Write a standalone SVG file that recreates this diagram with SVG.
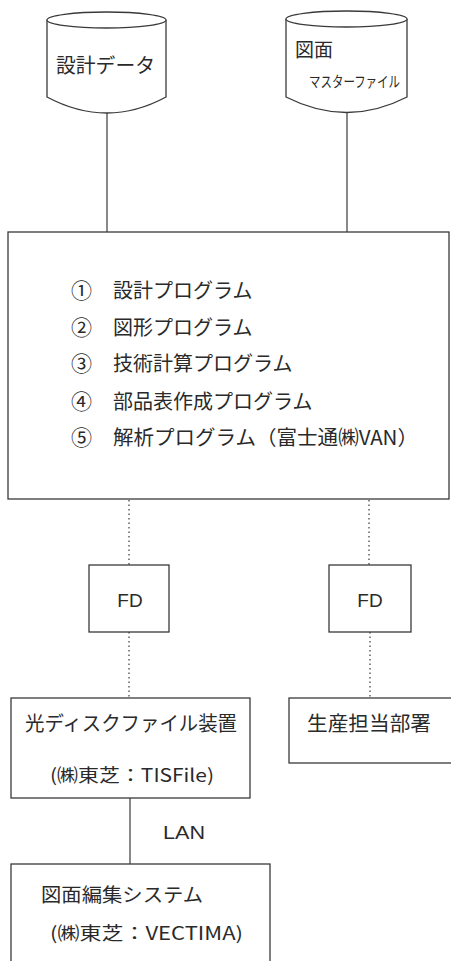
<svg xmlns="http://www.w3.org/2000/svg" width="451" height="961" viewBox="0 0 451 961">
<style>
.s{fill:#fff;stroke:#3a3a3a;stroke-width:1.3}
.t{font-family:"Noto Sans CJK JP","Noto Sans",sans-serif;fill:#2a2a2a}
.a{font-family:"Liberation Sans",Arial,sans-serif;fill:#2a2a2a}
.l{stroke:#3a3a3a;stroke-width:1.2;fill:none}
.d{stroke:#555;stroke-width:1.4;stroke-dasharray:1.5 3;fill:none}
</style>
<rect width="451" height="961" fill="#fff"/>
<g id="connectors">
<line class="l" x1="107" y1="113" x2="107" y2="232"/>
<line class="l" x1="347" y1="112" x2="347" y2="232"/>
<line class="d" x1="129" y1="500" x2="129" y2="565"/>
<line class="d" x1="369" y1="500" x2="369" y2="565"/>
<line class="d" x1="129" y1="632" x2="129" y2="698"/>
<line class="d" x1="370" y1="632" x2="370" y2="698"/>
<line class="l" x1="130" y1="798" x2="130" y2="864"/>
<text class="a" x="163" y="839" font-size="18" textLength="42" lengthAdjust="spacingAndGlyphs">LAN</text>
</g>
<g id="design-data">
<path class="s" d="M47,20 L47,97 Q107,129 166,97 L166,20"/>
<ellipse class="s" cx="106.5" cy="20" rx="59.5" ry="8"/>
<text class="t" x="56" y="73" font-size="20" textLength="99" lengthAdjust="spacingAndGlyphs">設計データ</text>
</g>
<g id="master-file">
<path class="s" d="M286,19 L286,97 Q347,128 407,97 L407,19"/>
<ellipse class="s" cx="346.5" cy="19" rx="60.5" ry="8"/>
<text class="t" x="295" y="57" font-size="19">図面</text>
<text class="t" x="309" y="87" font-size="15" textLength="91" lengthAdjust="spacingAndGlyphs">マスターファイル</text>
</g>
<g id="programs">
<rect class="s" x="8" y="232" width="441" height="267"/>
<g class="t" font-size="20">
<text x="71" y="298" font-size="21">①</text><text x="113" y="298">設計プログラム</text>
<text x="71" y="335" font-size="21">②</text><text x="113" y="335">図形プログラム</text>
<text x="71" y="371" font-size="21">③</text><text x="113" y="371">技術計算プログラム</text>
<text x="71" y="409" font-size="21">④</text><text x="113" y="409">部品表作成プログラム</text>
<text x="71" y="445" font-size="21">⑤</text><text x="113" y="445" textLength="305" lengthAdjust="spacingAndGlyphs">解析プログラム（富士通㈱VAN）</text>
</g>
</g>
<g id="fd-left">
<rect class="s" x="89" y="565" width="80" height="67"/>
<text class="a" x="130" y="607" font-size="19" text-anchor="middle">FD</text>
</g>
<g id="fd-right">
<rect class="s" x="329" y="565" width="82" height="67"/>
<text class="a" x="370" y="607" font-size="19" text-anchor="middle">FD</text>
</g>
<g id="optical-disk">
<rect class="s" x="11" y="698" width="239" height="100"/>
<text class="t" x="25" y="731" font-size="20" textLength="212" lengthAdjust="spacingAndGlyphs">光ディスクファイル装置</text>
<text class="t" x="50" y="782" font-size="18" textLength="164" lengthAdjust="spacingAndGlyphs">(㈱東芝：TISFile)</text>
</g>
<g id="production">
<rect class="s" x="289" y="698" width="165" height="65"/>
<text class="t" x="307" y="731" font-size="20" textLength="124" lengthAdjust="spacingAndGlyphs">生産担当部署</text>
</g>
<g id="drawing-edit">
<rect class="s" x="11" y="864" width="259" height="110"/>
<text class="t" x="41" y="902" font-size="19" textLength="162" lengthAdjust="spacingAndGlyphs">図面編集システム</text>
<text class="t" x="50" y="940" font-size="18" textLength="193" lengthAdjust="spacingAndGlyphs">(㈱東芝：VECTIMA)</text>
</g>
</svg>
